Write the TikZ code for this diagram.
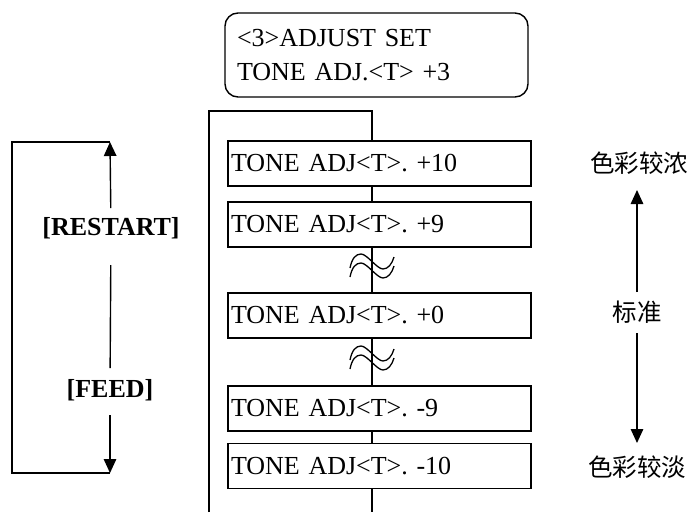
\documentclass[tikz,border=0pt]{standalone}
\usepackage{fontspec}
\setmainfont{Liberation Serif}
\newfontfamily\cjk{Noto Sans CJK SC}
\usetikzlibrary{arrows.meta}
\frenchspacing
\begin{document}
\begin{tikzpicture}[x=1pt,y=-1pt,line width=1.4pt,
  menubox/.style={draw,minimum width=303pt,minimum height=45pt,text width=297pt,
    inner xsep=3pt,inner ysep=0pt,align=left,font=\fontsize{26}{30}\selectfont},
  keylabel/.style={inner sep=0pt,font=\bfseries\fontsize{26}{30}\selectfont},
  cjklabel/.style={inner sep=0pt,font=\cjk\fontsize{24.5}{28}\selectfont},
  arr/.style={-{Triangle[length=14pt,width=12.5pt]}}]
\useasboundingbox (0,0) rectangle (696,512);
% top display
\node[draw,rounded corners=13pt,minimum width=303pt,minimum height=84pt,
  text width=279pt,inner xsep=12pt,align=left,
  font=\fontsize{26}{33.5}\selectfont] (top) at (376.5,55)
  {<3>ADJUST SET\\TONE ADJ.<T> +3};
% menu boxes
\node[menubox] (b1) at (379.5,163.5) {TONE ADJ<T>. +10};
\node[menubox] (b2) at (379.5,224.5) {TONE ADJ<T>. +9};
\node[menubox] (b3) at (379.5,315.5) {TONE ADJ<T>. +0};
\node[menubox] (b4) at (379.5,408.5) {TONE ADJ<T>. -9};
\node[menubox] (b5) at (379.5,466) {TONE ADJ<T>. -10};
% main loop line
\coordinate (lt) at (209,111);
\coordinate (rt) at (372,111);
\coordinate (lb) at (209,512);
\coordinate (rb) at (372,512);
\draw (lb) -- (lt) -- (rt) -- (rt |- b1.north);
\draw (rt |- b1.south) -- (rt |- b2.north);
\draw (rt |- b2.south) -- (rt |- b3.north);
\draw (rt |- b3.south) -- (rt |- b4.north);
\draw (rt |- b4.south) -- (rt |- b5.north);
\draw (rt |- b5.south) -- (rb);
% squiggles (omitted steps)
\foreach \yc in {270,362}{
  \foreach \dy in {-5,4}{
    \draw[line width=1.3pt] (350,\yc+\dy+3) .. controls (352,\yc+\dy-7) and (356,\yc+\dy-11) .. (361,\yc+\dy-11)
      .. controls (367,\yc+\dy-11) and (377,\yc+\dy+4) .. (383,\yc+\dy+4)
      .. controls (388,\yc+\dy+4) and (392,\yc+\dy-1) .. (394,\yc+\dy-8);
  }
}
% left key loop
\node[keylabel] (restart) at (111,228) {[RESTART]};
\node[keylabel] (feed) at (110,390) {[FEED]};
\coordinate (tl) at (110,142);
\coordinate (bl) at (110,473);
\coordinate (ctl) at (12,142);
\coordinate (cbl) at (12,473);
\draw[arr,shorten <=20pt] (restart.center) -- (tl);
\draw[shorten <=37pt,shorten >=22pt] (restart.center) -- (feed.center);
\draw[arr,shorten <=25pt] (feed.center) -- (bl);
\draw (tl) -- (ctl) -- (cbl) -- (bl);
% right scale
\node[cjklabel] (dark) at (639,163) {色彩较浓};
\node[cjklabel] (std) at (637,312) {标准};
\node[cjklabel] (light) at (637,467) {色彩较淡};
\draw[arr,shorten <=20pt,shorten >=27pt] (std.center) -- (std.center |- dark.center);
\draw[arr,shorten <=21pt,shorten >=24pt] (std.center) -- (std.center |- light.center);
\end{tikzpicture}
\end{document}
